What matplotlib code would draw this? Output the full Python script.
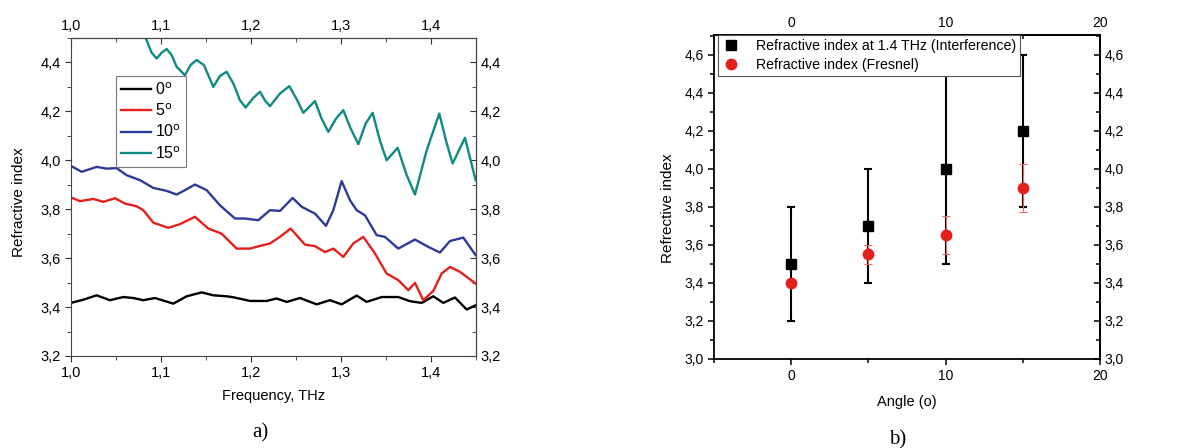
import numpy as np
import matplotlib
matplotlib.use("Agg")
import matplotlib.pyplot as plt
from matplotlib.ticker import MultipleLocator, FuncFormatter

plt.rcParams['font.family'] = ['Liberation Sans', 'DejaVu Sans']

# ---- panel a) data (x in zoomed px -> THz below)
px_0 = [213, 250, 290, 330, 370, 400, 430, 465, 520, 560, 605, 640, 680, 700, 750, 800,
        830, 860, 900, 950, 990, 1025, 1070, 1100, 1145, 1195, 1230, 1265, 1300, 1330, 1365, 1400, 1427]
n_0 = [3.417, 3.430, 3.448, 3.428, 3.441, 3.437, 3.428, 3.437, 3.414, 3.444, 3.460, 3.448, 3.444,
       3.440, 3.425, 3.425, 3.435, 3.421, 3.437, 3.411, 3.428, 3.411, 3.447, 3.421, 3.441, 3.441,
       3.424, 3.417, 3.444, 3.417, 3.439, 3.390, 3.407]

px_5 = [213, 240, 280, 310, 345, 375, 410, 430, 460, 505, 540, 585, 625, 665, 710, 750, 780, 810,
        840, 872, 915, 945, 975, 1000, 1030, 1060, 1090, 1125, 1160, 1195, 1225, 1245, 1270, 1300,
        1325, 1350, 1380, 1427]
n_5 = [3.848, 3.833, 3.842, 3.830, 3.845, 3.823, 3.812, 3.796, 3.745, 3.724, 3.739, 3.769, 3.721,
       3.700, 3.639, 3.639, 3.650, 3.660, 3.687, 3.721, 3.655, 3.649, 3.625, 3.639, 3.605, 3.660,
       3.687, 3.619, 3.537, 3.510, 3.469, 3.499, 3.428, 3.466, 3.537, 3.564, 3.544, 3.496]

px_10 = [213, 245, 290, 320, 350, 380, 420, 460, 500, 530, 555, 585, 620, 660, 705, 735, 775, 810,
         840, 878, 905, 945, 978, 1000, 1025, 1050, 1070, 1095, 1130, 1155, 1195, 1245, 1285, 1320,
         1350, 1390, 1427]
n_10 = [3.977, 3.953, 3.973, 3.966, 3.968, 3.939, 3.919, 3.887, 3.875, 3.860, 3.878, 3.901, 3.878,
        3.816, 3.762, 3.762, 3.755, 3.796, 3.793, 3.846, 3.810, 3.782, 3.732, 3.796, 3.915, 3.837,
        3.796, 3.775, 3.694, 3.687, 3.639, 3.676, 3.646, 3.623, 3.670, 3.684, 3.612]

px_15 = [415, 437, 455, 470, 485, 500, 515, 530, 555, 572, 590, 612, 640, 660, 680, 700, 720, 737,
         760, 780, 795, 810, 840, 868, 890, 910, 945, 965, 985, 1008, 1030, 1052, 1075, 1097, 1118,
         1140, 1160, 1193, 1220, 1245, 1280, 1318, 1340, 1358, 1395, 1427]
n_15 = [4.56, 4.50, 4.44, 4.416, 4.44, 4.455, 4.43, 4.382, 4.348, 4.39, 4.410, 4.389, 4.300, 4.345,
        4.362, 4.314, 4.245, 4.216, 4.255, 4.280, 4.245, 4.221, 4.273, 4.303, 4.25, 4.194, 4.242,
        4.17, 4.116, 4.17, 4.205, 4.13, 4.066, 4.15, 4.194, 4.08, 4.000, 4.051, 3.94, 3.860, 4.04,
        4.191, 4.07, 3.987, 4.092, 3.919]

labels_a = ["0$^{\\mathrm{o}}$", "5$^{\\mathrm{o}}$", "10$^{\\mathrm{o}}$", "15$^{\\mathrm{o}}$"]
colors_a = ["black", "#e3201c", "#2e3a98", "#0e8a82"]

# ---- panel b) data
angle = [0, 5, 10, 15]
n_interf = [3.5, 3.7, 4.0, 4.2]
err_interf = [0.3, 0.3, 0.5, 0.4]
n_fresnel = [3.4, 3.55, 3.65, 3.9]
err_fresnel = [0.0, 0.05, 0.1, 0.125]


def to_thz(px):
    return 1.0 + (np.array(px) - 213) / 2700.0


comma = FuncFormatter(lambda v, p: f"{v:.1f}".replace(".", ","))

fig = plt.figure(figsize=(11.95, 4.48), dpi=100)

# ================= a)
ax1 = fig.add_axes([0.0594, 0.2054, 0.3389, 0.7098])
for px, n, lab, c in zip([px_0, px_5, px_10, px_15], [n_0, n_5, n_10, n_15], labels_a, colors_a):
    ax1.plot(to_thz(px), n, color=c, lw=1.7, label=lab, solid_joinstyle="round")
ax1.set_xlim(1.0, 1.45)
ax1.set_ylim(3.2, 4.5)
ax1.xaxis.set_major_locator(MultipleLocator(0.1))
ax1.xaxis.set_minor_locator(MultipleLocator(0.05))
ax1.yaxis.set_major_locator(MultipleLocator(0.2))
ax1.yaxis.set_minor_locator(MultipleLocator(0.1))
ax1.xaxis.set_major_formatter(comma)
ax1.yaxis.set_major_formatter(comma)
ax1.tick_params(which="both", direction="out", labelsize=10.5, color="#333333")
ax1.tick_params(which="major", length=4)
ax1.tick_params(which="minor", length=3)
for s in ax1.spines.values():
    s.set_color("#444444")
top1 = ax1.secondary_xaxis("top")
top1.xaxis.set_major_locator(MultipleLocator(0.1))
top1.xaxis.set_minor_locator(MultipleLocator(0.05))
top1.xaxis.set_major_formatter(comma)
top1.tick_params(which="both", direction="in", labelsize=10.5, color="#333333")
top1.tick_params(which="major", length=4)
top1.tick_params(which="minor", length=3)
right1 = ax1.secondary_yaxis("right")
right1.yaxis.set_major_locator(MultipleLocator(0.2))
right1.yaxis.set_minor_locator(MultipleLocator(0.1))
right1.yaxis.set_major_formatter(comma)
right1.tick_params(which="both", direction="in", labelsize=10.5, color="#333333")
right1.tick_params(which="major", length=4)
right1.tick_params(which="minor", length=3)
ax1.set_xlabel("Frequency, THz", fontsize=10.5)
ax1.set_ylabel("Refractive index", fontsize=11)
ax1.xaxis.set_label_coords(0.5, -0.105)
ax1.yaxis.set_label_coords(-0.11, 0.484)
leg1 = ax1.legend(loc="upper left", bbox_to_anchor=(0.111, 0.88), borderaxespad=0,
                  fontsize=11.5, fancybox=False, edgecolor="#777777", handlelength=1.9,
                  handletextpad=0.25, labelspacing=0.3, borderpad=0.3, framealpha=1)
leg1.get_frame().set_linewidth(0.8)

# ================= b)
ax2 = fig.add_axes([0.5975, 0.1987, 0.323, 0.7233])
ax2.errorbar(angle, n_interf, yerr=err_interf, fmt="s", color="black", ms=6.5,
             ecolor="black", elinewidth=1.5, capsize=3, capthick=1.5,
             label="Refractive index at 1.4 THz (Interference)", zorder=3)
ax2.errorbar(angle, n_fresnel, yerr=err_fresnel, fmt="o", color="#e3201c", ms=7.5,
             ecolor="#e86a66", elinewidth=0.8, capsize=3, capthick=0.8,
             label="Refractive index (Fresnel)", zorder=4)
ax2.set_xlim(-5, 20)
ax2.set_ylim(3.0, 4.705)
ax2.xaxis.set_major_locator(MultipleLocator(10))
ax2.xaxis.set_minor_locator(MultipleLocator(5))
ax2.yaxis.set_major_locator(MultipleLocator(0.2))
ax2.yaxis.set_minor_locator(MultipleLocator(0.1))
ax2.yaxis.set_major_formatter(comma)
ax2.tick_params(which="both", direction="out", labelsize=10)
ax2.tick_params(which="major", length=4, width=1.1)
ax2.tick_params(which="minor", length=3, width=1.1)
for s in ax2.spines.values():
    s.set_linewidth(1.3)
top2 = ax2.secondary_xaxis("top")
top2.xaxis.set_major_locator(MultipleLocator(10))
top2.xaxis.set_minor_locator(MultipleLocator(5))
top2.tick_params(which="both", direction="in", labelsize=10)
top2.tick_params(which="major", length=4, width=1.1)
top2.tick_params(which="minor", length=3, width=1.1)
top2.spines["top"].set_linewidth(1.3)
right2 = ax2.secondary_yaxis("right")
right2.yaxis.set_major_locator(MultipleLocator(0.2))
right2.yaxis.set_minor_locator(MultipleLocator(0.1))
right2.yaxis.set_major_formatter(comma)
right2.tick_params(which="both", direction="in", labelsize=10)
right2.tick_params(which="major", length=4, width=1.1)
right2.tick_params(which="minor", length=3, width=1.1)
right2.spines["right"].set_linewidth(1.3)
ax2.set_xlabel("Angle (o)", fontsize=10.5)
ax2.set_ylabel("Refrective index", fontsize=11)
ax2.xaxis.set_label_coords(0.5, -0.11)
ax2.yaxis.set_label_coords(-0.1, 0.466)
h, l = ax2.get_legend_handles_labels()
h = [x[0] for x in h]
leg2 = ax2.legend(h, l, loc="upper left", bbox_to_anchor=(0.01, 1.0), borderaxespad=0,
                  fontsize=10.2, fancybox=False, edgecolor="#555555", numpoints=1,
                  handlelength=1.2, handletextpad=1.2, labelspacing=0.35, borderpad=0.3,
                  framealpha=1)
leg2.get_frame().set_linewidth(0.8)

fig.text(0.2176, 0.033, "a)", family=["Liberation Serif", "DejaVu Serif"], fontsize=15,
         ha="center", va="center")
fig.text(0.751, 0.018, "b)", family=["Liberation Serif", "DejaVu Serif"], fontsize=15,
         ha="center", va="center")

fig.savefig("out.png", dpi=100)
